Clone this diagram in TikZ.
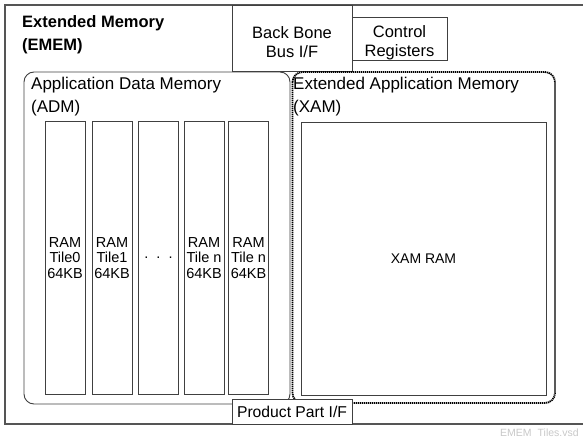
\documentclass[tikz,border=0pt]{standalone}
\usepackage{fontspec}
\setmainfont{Liberation Sans}
\usetikzlibrary{positioning}

\definecolor{linegray}{HTML}{404040}
\definecolor{framegray}{HTML}{555555}
\definecolor{notegray}{HTML}{C8C8C8}

\begin{document}
\begin{tikzpicture}[x=1pt, y=-1pt,
	every node/.style={font=\fontsize{16.5}{19}\selectfont, align=center, inner sep=0pt},
	box/.style={draw=linegray, line width=0.9pt, fill=white},
	tilebox/.style={box, minimum width=40pt, minimum height=273pt, font=\fontsize{14.5}{15.5}\selectfont},
	region/.style={draw=linegray, line width=0.9pt, rounded corners=10pt},
	title/.style={anchor=north west, align=left, font=\fontsize{17}{23.5}\selectfont}]
	\useasboundingbox (0,0) rectangle (583,439);
	\clip (0,0) rectangle (583,439);
	% outer frame (runs past the right edge)
	\draw[draw=framegray, line width=1.8pt] (5,5) rectangle (620,424);
	\node[title, font=\bfseries\fontsize{16.5}{23}\selectfont] (ememlbl) at (22,15) {Extended Memory\\(EMEM)};
	\node[box, minimum width=120pt, minimum height=66pt] (backbone) at (292,38) {\rule{0pt}{21pt}Back Bone\\Bus I/F};
	\node[box, minimum width=95pt, minimum height=40pt] (ctrl) at (399.5,39) {\rule{0pt}{20pt}Control\\Registers};
	% application data memory
	\draw[region] (24,72) rectangle (290,404);
	\node[title] (admlbl) at (31,76.5) {Application Data Memory\\(ADM)};
	\foreach \x/\t [count=\i] in {65/{RAM\\Tile0\\64KB}, 112/{RAM\\Tile1\\64KB}, 158.5/{.\ \ .\ \ .}, 204/{RAM\\Tile n\\64KB}, 248.5/{RAM\\Tile n\\64KB}}
		\node[tilebox] (tile\i) at (\x,258) {\t};
	% extended application memory
	\draw[region, draw=black, line width=1.8pt, dash pattern=on 1.3pt off 0.7pt] (292.5,72) rectangle (555,403);
	\node[title] (xamlbl) at (293,76.5) {Extended Application Memory\\(XAM)};
	\node[box, minimum width=245pt, minimum height=273pt, font=\fontsize{14}{16}\selectfont] (xamram) at (423.5,259) {XAM RAM};
	\node[box, minimum width=120pt, minimum height=25pt, font=\fontsize{15.7}{18}\selectfont] (product) at (292,411.5) {Product Part I/F};
	\node[anchor=west, text=notegray, font=\fontsize{10.5}{12}\selectfont] (file) at (500,433) {EMEM\hspace{6pt}Tiles.vsd};
\end{tikzpicture}
\end{document}
